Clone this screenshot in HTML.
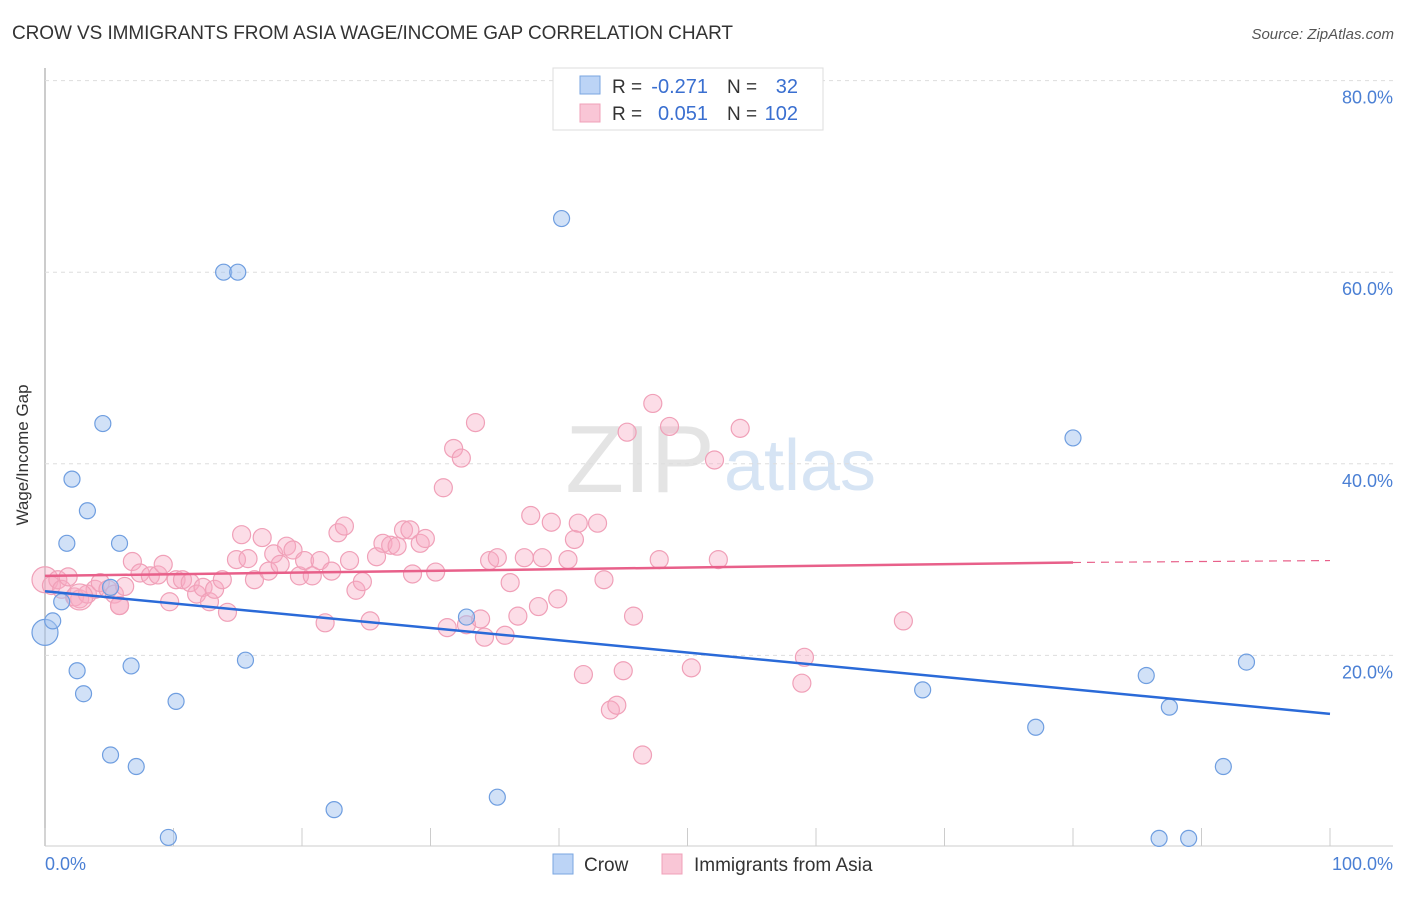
<!DOCTYPE html>
<html><head><meta charset="utf-8"><style>
body{margin:0;background:#fff;font-family:"Liberation Sans",sans-serif}
svg text{font-family:"Liberation Sans",sans-serif}
</style></head><body>
<svg id="chart" width="1406" height="892" xmlns="http://www.w3.org/2000/svg">
<text x="12" y="39" font-size="19" fill="#333" textLength="721">CROW VS IMMIGRANTS FROM ASIA WAGE/INCOME GAP CORRELATION CHART</text>
<text x="1394" y="39" font-size="15" fill="#555" font-style="italic" text-anchor="end">Source: ZipAtlas.com</text>
<text x="640" y="492" font-size="96" fill="#e4e4e4" font-family="Liberation Serif" text-anchor="middle">ZIP</text>
<text x="800" y="490" font-size="72" fill="#d6e4f4" text-anchor="middle">atlas</text>
<g id="grid"></g>
<g id="marks"></g>
<text x="28" y="455" font-size="17" fill="#333" transform="rotate(-90 28 455)" text-anchor="middle">Wage/Income Gap</text>
<text x="45" y="870" font-size="18" fill="#4a7fd4">0.0%</text>
<text x="1393" y="870" font-size="18" fill="#4a7fd4" text-anchor="end">100.0%</text>
<g>
<rect x="553" y="68" width="270" height="62" fill="#fff" stroke="#ddd"/>
<rect x="580" y="76" width="20" height="18" fill="#bcd4f6" stroke="#7aa6e0"/>
<rect x="580" y="104" width="20" height="18" fill="#f9c6d6" stroke="#f0a0b8"/>
<text x="612" y="93" font-size="19" fill="#333">R =</text>
<text x="708" y="93" font-size="20" fill="#3a6fd0" text-anchor="end">-0.271</text>
<text x="727" y="93" font-size="19" fill="#333">N =</text>
<text x="798" y="93" font-size="20" fill="#3a6fd0" text-anchor="end">32</text>
<text x="612" y="120" font-size="19" fill="#333">R =</text>
<text x="708" y="120" font-size="20" fill="#3a6fd0" text-anchor="end">0.051</text>
<text x="727" y="120" font-size="19" fill="#333">N =</text>
<text x="798" y="120" font-size="20" fill="#3a6fd0" text-anchor="end">102</text>
</g>
<g>
<rect x="553" y="854" width="20" height="20" fill="#bcd4f6" stroke="#7aa6e0"/>
<text x="584" y="871" font-size="19" fill="#333">Crow</text>
<rect x="662" y="854" width="20" height="20" fill="#f9c6d6" stroke="#f0a0b8"/>
<text x="694" y="871" font-size="19" fill="#333">Immigrants from Asia</text>
</g>
</svg>
<script>
const yTicks=[20,40,60,80];
const crowX=[0,0.6,1.3,1.7,2.1,3.3,4.5,2.5,3,5.1,5.8,6.7,7.1,9.6,10.2,13.9,15,15.6,22.5,32.8,35.2,40.2,68.3,77.1,80,85.7,86.7,87.5,89,91.7,93.5,5.1];
const crowY=[22.4,23.6,25.6,31.7,38.4,35.1,44.2,18.4,16,9.6,31.7,18.9,8.4,1,15.2,60,60,19.5,3.9,24,5.2,65.6,16.4,12.5,42.7,17.9,0.9,14.6,0.9,8.4,19.3,27.1];
const crowR=[13,8,8,8,8,8,8,8,8,8,8,8,8,8,8,8,8,8,8,8,8,8,8,8,8,8,8,8,8,8,8,8];
const asiaX=[0,0.5,1,1.3,1.8,2.3,2.7,3.3,3.9,4.3,4.9,5.4,5.8,6.2,6.8,7.4,8.2,8.8,9.2,9.7,10.2,10.7,11.3,11.8,12.3,12.8,13.2,13.8,14.2,14.9,15.3,15.8,16.3,16.9,17.4,17.8,18.3,18.8,19.3,19.8,20.2,20.8,21.4,21.8,22.3,22.8,23.3,23.7,24.2,24.7,25.3,25.8,26.3,26.9,27.4,27.9,28.4,28.6,29.2,29.6,30.4,31,31.3,31.8,32.4,32.8,33.5,33.9,34.2,34.6,35.2,35.8,36.2,36.8,37.3,37.8,38.4,38.7,39.4,39.9,40.7,41.2,41.5,41.9,43,43.5,44,44.5,45,45.3,45.8,46.5,47.3,47.8,48.6,50.3,52.1,52.4,54.1,59.1,58.9,66.8,2.7,5.8];
const asiaY=[27.9,27.3,27.9,26.9,28.2,26.1,25.9,26.4,26.9,27.6,26.9,26.4,25.2,27.2,29.8,28.6,28.3,28.4,29.5,25.6,27.9,27.9,27.6,26.4,27.1,25.6,26.9,27.9,24.5,30,32.6,30.1,27.9,32.3,28.8,30.6,29.5,31.4,31,28.3,29.9,28.3,29.9,23.4,28.8,32.8,33.5,29.9,26.8,27.7,23.6,30.3,31.7,31.5,31.4,33.1,33.1,28.5,31.7,32.2,28.7,37.5,22.9,41.6,40.6,23.2,44.3,23.8,21.9,29.9,30.2,22.1,27.6,24.1,30.2,34.6,25.1,30.2,33.9,25.9,30,32.1,33.8,18,33.8,27.9,14.3,14.8,18.4,43.3,24.1,9.6,46.3,30,43.9,18.7,40.4,30,43.7,19.8,17.1,23.6,26.1,25.2,24.7];
const crowLine=[26.7,13.9];
const asiaLine=[28.3,29.7,29.9];
const X=v=>45+v*12.85, Y=v=>847-v*9.58;
const NS='http://www.w3.org/2000/svg';
const grid=document.getElementById('grid'), marks=document.getElementById('marks');
function mk(tag,attrs,parent){const e=document.createElementNS(NS,tag);for(const k in attrs)e.setAttribute(k,attrs[k]);parent.appendChild(e);return e;}
let ax=mk('line',{x1:45,y1:68,x2:45,y2:846,stroke:'#bbb','stroke-width':1.5},grid);


let bx=mk('line',{x1:45,y1:846,x2:1393,y2:846,stroke:'#ccc'},grid);


for(let i=0;i<=10;i++){let t=mk('line',{x1:X(i*10),y1:828,x2:X(i*10),y2:846,stroke:'#ccc'},grid);

}
yTicks.forEach(v=>{let g=mk('line',{x1:45,y1:Y(v),x2:1393,y2:Y(v),stroke:'#ddd','stroke-dasharray':'4,4'},grid);


let t=mk('text',{x:1393,y:Y(v)+23,'font-size':18,fill:'#4a7fd4','text-anchor':'end'},grid);t.textContent=v.toFixed(1)+'%';

});
asiaX.forEach((v,i)=>{const big=i==0||i==asiaX.length-2;let c=mk('circle',{cx:X(v),cy:Y(asiaY[i]),r:big?13:9,fill:'rgba(248,170,195,0.4)',stroke:'#f0a0b8','stroke-width':1.2},marks);

});
crowX.forEach((v,i)=>{let c=mk('circle',{cx:X(v),cy:Y(crowY[i]),r:crowR[i],fill:'rgba(164,196,240,0.5)',stroke:'#6f9ee0','stroke-width':1.2},marks);

});
let l1=mk('line',{x1:X(0),y1:Y(crowLine[0]),x2:X(100),y2:Y(crowLine[1]),stroke:'#2a6ad8','stroke-width':2.5},marks);


let l2=mk('line',{x1:X(0),y1:Y(asiaLine[0]),x2:X(80),y2:Y(asiaLine[1]),stroke:'#e8608a','stroke-width':2.5},marks);


let l3=mk('line',{x1:X(80),y1:Y(asiaLine[1]),x2:X(100),y2:Y(asiaLine[2]),stroke:'#e8608a','stroke-width':1.2,'stroke-dasharray':'8,6'},marks);


</script>
</body></html>
